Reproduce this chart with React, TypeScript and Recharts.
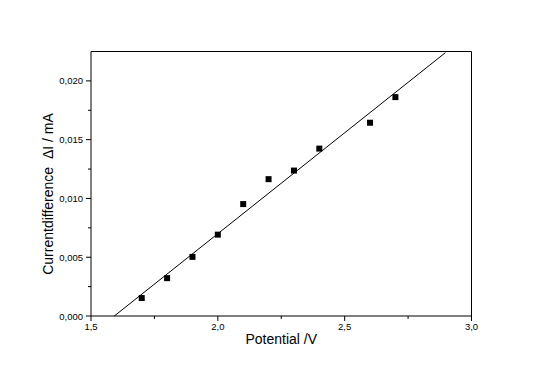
import { ScatterChart, Scatter, XAxis, YAxis, ReferenceLine } from 'recharts';

const potential = [1.7, 1.8, 1.9, 2.0, 2.1, 2.2, 2.3, 2.4, 2.6, 2.7];
const currentDiff = [0.00153, 0.00322, 0.00503, 0.00692, 0.00952, 0.01164, 0.01237, 0.01424, 0.01644, 0.01862];

const fitX = [1.592, 2.897];
const fitY = [0, 0.0224];

const xTicks = [1.5, 1.75, 2.0, 2.25, 2.5, 2.75, 3.0];
const yTicks = [0, 0.0025, 0.005, 0.0075, 0.01, 0.0125, 0.015, 0.0175, 0.02, 0.0225];
const xMajor = [1.5, 2.0, 2.5, 3.0];
const yMajor = [0, 0.005, 0.01, 0.015, 0.02];

const points = potential.map((x, i) => ({ x, y: currentDiff[i] }));
const fit = fitX.map((x, i) => ({ x, y: fitY[i] }));

const FONT = '"Liberation Sans", Arial, sans-serif';

const isMajor = (list: number[], v: number) => list.some((m) => Math.abs(m - v) < 1e-9);

function XTick(props: any) {
  const { x, y, payload } = props;
  const major = isMajor(xMajor, payload.value);
  return (
    <g>
      <line x1={x} x2={x} y1={y} y2={y + (major ? 5 : 3)} stroke="#000" strokeWidth={1} />
      {major && (
        <text x={x} y={y + 14} textAnchor="middle" fontSize={9.5} fontFamily={FONT} fill="#000">
          {payload.value.toFixed(1).replace('.', ',')}
        </text>
      )}
    </g>
  );
}

function YTick(props: any) {
  const { x, y, payload } = props;
  const major = isMajor(yMajor, payload.value);
  if (payload.value > 0.021) return null;
  return (
    <g>
      <line x1={x} x2={x - (major ? 5 : 3)} y1={y} y2={y} stroke="#000" strokeWidth={1} />
      {major && (
        <text x={x - 8} y={y + 3.5} textAnchor="end" fontSize={9.5} fontFamily={FONT} fill="#000">
          {payload.value.toFixed(3).replace('.', ',')}
        </text>
      )}
    </g>
  );
}

function Square(props: any) {
  const { cx, cy } = props;
  return <rect x={cx - 3} y={cy - 3} width={6} height={6} fill="#000" />;
}

export default function App() {
  return (
    <div style={{ position: 'absolute', left: 0, top: 0, background: '#fff' }}>
      <ScatterChart
        width={544}
        height={378}
        margin={{ top: 51.5, right: 72.5, left: 0, bottom: 0 }}
      >
        <XAxis
          type="number"
          dataKey="x"
          domain={[1.5, 3.0]}
          ticks={xTicks}
          interval={0}
          height={62}
          stroke="#000"
          tickLine={false}
          tickSize={0}
          tickMargin={0}
          tick={<XTick />}
          label={{
            value: 'Potential /V',
            position: 'insideBottom',
            offset: 34,
            fill: '#000',
            fontSize: 14,
            fontFamily: FONT,
          }}
        />
        <YAxis
          type="number"
          dataKey="y"
          domain={[0, 0.0225]}
          ticks={yTicks}
          interval={0}
          width={91}
          stroke="#000"
          tickLine={false}
          tickSize={0}
          tickMargin={0}
          tick={<YTick />}
          label={{
            content: () => (
              <text
                x={52.5}
                y={194}
                transform="rotate(-90, 52.5, 194)"
                textAnchor="middle"
                fontSize={14}
                fontFamily={FONT}
                fill="#000"
              >
                {'Currentdifference\u00a0 ΔI / mA'}
              </text>
            ),
          }}
        />
        <ReferenceLine y={0.0225} stroke="#000" strokeWidth={1} />
        <ReferenceLine x={3.0} stroke="#000" strokeWidth={1} />
        <Scatter
          data={fit}
          line={{ stroke: '#000', strokeWidth: 1 }}
          shape={() => null}
          isAnimationActive={false}
        />
        <Scatter data={points} shape={<Square />} isAnimationActive={false} />
      </ScatterChart>
    </div>
  );
}
